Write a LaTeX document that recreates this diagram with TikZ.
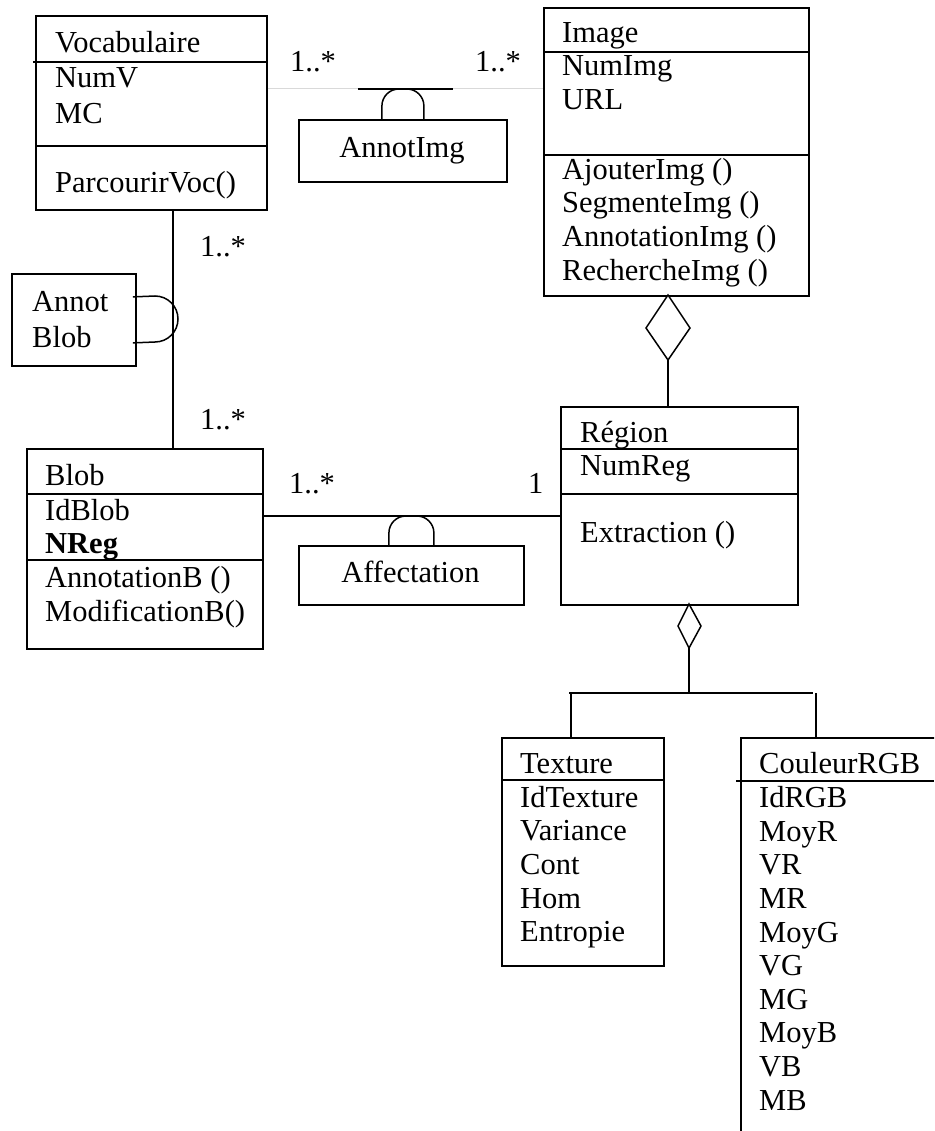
\documentclass[tikz,border=0pt]{standalone}
\usepackage{fontspec}
\setmainfont{Liberation Serif}
\usetikzlibrary{calc}
\begin{document}
\begin{tikzpicture}[x=1pt,y=-1pt,
  cls/.style={draw, line width=1.8pt, rectangle, inner sep=0pt, anchor=north west},
  sep/.style={line width=1.6pt},
  link/.style={line width=1.5pt},
  faint/.style={line width=1pt, draw=black!15},
  txt/.style={anchor=base west, inner sep=0pt, font=\fontsize{30.5}{35}\selectfont},
  ctxt/.style={anchor=base, inner sep=0pt, font=\fontsize{30.5}{35}\selectfont},
  agg/.style={draw, line width=1.5pt, fill=white},
]
\useasboundingbox (0,0) rectangle (934,1131);
\clip (0,0) rectangle (934,1131);

% ---------- class boxes ----------
\node[cls, minimum width=231pt, minimum height=194pt] (voc) at (35,15) {};
\node[cls, minimum width=265pt, minimum height=288pt] (img) at (543,7) {};
\node[cls, minimum width=237pt, minimum height=198pt] (reg) at (560,406) {};
\node[cls, minimum width=236pt, minimum height=200pt] (blob) at (26,448) {};
\node[cls, minimum width=162pt, minimum height=228pt] (tex) at (501,737) {};
\node[cls, minimum width=260pt, minimum height=450pt] (rgb) at (740,737) {};

% association classes
\node[cls, minimum width=208pt, minimum height=62pt] (aimg) at (298,119) {};
\node[cls, minimum width=225pt, minimum height=59pt] (aff) at (298,545) {};
\node[cls, minimum width=124pt, minimum height=92pt] (ablob) at (11,273) {};

% ---------- compartment separators ----------
\draw[sep] (33,62) -- (266,62);
\draw[sep] (35,146) -- (266,146);
\draw[sep] (543,52) -- (808,52);
\draw[sep] (543,155) -- (808,155);
\draw[sep] (560,449) -- (797,449);
\draw[sep] (560,494) -- (797,494);
\draw[sep] (26,494) -- (262,494);
\draw[sep] (26,560) -- (262,560);
\draw[sep] (501,780) -- (665,780);
\draw[sep] (736,781) -- (934,781);

% ---------- texts ----------
\node[txt] (vocT) at (55,53) {Vocabulaire};
\node[txt] (vocA1) at (55,88) {NumV};
\node[txt] (vocA2) at (55,124) {MC};
\node[txt] (vocM1) at (55,193) {ParcourirVoc()};

\node[txt] (imgT) at (562,43) {Image};
\node[txt] (imgA1) at (562,76) {NumImg};
\node[txt] (imgA2) at (562,110) {URL};
\node[txt] (imgM1) at (562,180) {AjouterImg ()};
\node[txt] (imgM2) at (562,213) {SegmenteImg ()};
\node[txt] (imgM3) at (562,247) {AnnotationImg ()};
\node[txt] (imgM4) at (562,280) {RechercheImg ()};

\node[txt] (regT) at (580,442) {Région};
\node[txt] (regA1) at (580,475) {NumReg};
\node[txt] (regM1) at (580,542) {Extraction ()};

\node[txt] (blobT) at (45,485) {Blob};
\node[txt] (blobA1) at (45,520) {IdBlob};
\node[txt] (blobA2) at (45,553) {\bfseries NReg};
\node[txt] (blobM1) at (45,587) {AnnotationB ()};
\node[txt] (blobM2) at (45,621) {ModificationB()};

\node[txt] (texT) at (520,773) {Texture};
\node[txt] (tex1) at (520,807) {IdTexture};
\node[txt] (tex2) at (520,840) {Variance};
\node[txt] (tex3) at (520,874) {Cont};
\node[txt] (tex4) at (520,908) {Hom};
\node[txt] (tex5) at (520,941) {Entropie};

\node[txt] (rgbT) at (759,773) {CouleurRGB};
\foreach \t [count=\i] in {IdRGB,MoyR,VR,MR,MoyG,VG,MG,MoyB,VB,MB}
  \node[txt] (rgb\i) at (759,{774+33.6*\i}) {\t};

\node[ctxt] (aimgT) at (402,158) {AnnotImg};
\node[ctxt] (affT) at (410.5,582) {Affectation};
\node[txt] (ablobT1) at (32,312) {Annot};
\node[txt] (ablobT2) at (32,347) {Blob};

% ---------- Vocabulaire -- Image (AnnotImg) ----------
\coordinate (yimg) at (0,89);
\coordinate (k1) at (358,89);
\coordinate (k2) at (453,89);
\draw[faint] (voc.east |- yimg) -- (k1);
\draw[faint] (k2) -- (img.west |- yimg);
\draw[link] (k1) -- (k2);
\draw[link, rounded corners=17pt]
  ($(aimg.north)+(-21,0)$) -- ($(aimg.north)+(-21,-30)$) -- ($(aimg.north)+(21,-30)$) -- ($(aimg.north)+(21,0)$);
\node[txt] (m1) at (290,72) {1..*};
\node[txt] (m2) at (475,72) {1..*};

% ---------- Vocabulaire -- Blob (Annot Blob) ----------
\coordinate (xv) at (173,0);
\draw[link] (voc.south -| xv) -- (blob.north -| xv);
\draw[link] ($(ablob.east)+(-4,-23)$) -- (155,296) arc[start angle=-90, end angle=90, radius=23] -- ($(ablob.east)+(-4,23)$);
\node[txt] (m3) at (200,257) {1..*};
\node[txt] (m4) at (200,429) {1..*};

% ---------- Blob -- Région (Affectation) ----------
\coordinate (yaff) at (0,516);
\draw[link] (blob.east |- yaff) -- (reg.west |- yaff);
\draw[link, rounded corners=17pt]
  ($(aff.north)+(-22.5,0)$) -- ($(aff.north)+(-22.5,-29)$) -- ($(aff.north)+(22.5,-29)$) -- ($(aff.north)+(22.5,0)$);
\node[txt] (m5) at (289,493) {1..*};
\node[txt] (m6) at (528,493) {1};

% ---------- Image <>-- Région ----------
\coordinate (xd) at (668,0);
\draw[agg] (668,295) -- (690,328) -- (668,360) -- (646,328) -- cycle;
\draw[link] (668,360) -- (reg.north -| xd);

% ---------- Région <>-- Texture / CouleurRGB ----------
\draw[agg] (689,604) -- (701,626) -- (689,648) -- (678,626) -- cycle;
\coordinate (bar) at (689,693);
\draw[link] (689,648) -- (bar);
\draw[link] (569,693) -- (813,693);
\coordinate (xt) at (571,0);
\coordinate (xc) at (816,0);
\draw[link] (xt |- bar) -- (tex.north -| xt);
\draw[link] (xc |- bar) -- (rgb.north -| xc);
\end{tikzpicture}
\end{document}
